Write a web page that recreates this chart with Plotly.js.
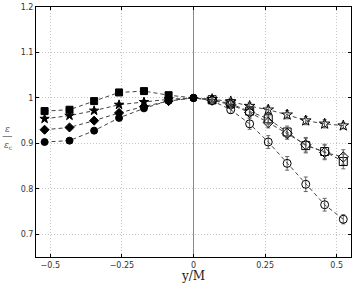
<!DOCTYPE html>
<html><head><meta charset="utf-8">
<script src="https://cdn.plot.ly/plotly-3.0.1.min.js"></script>
<style>html,body{margin:0;padding:0;background:#fff}#c{width:354px;height:283px}</style>
</head><body><div id="c"></div>
<script>
const xLeft = [-0.52, -0.433, -0.347, -0.26, -0.173, -0.087, 0];
const xRight = [0.065, 0.13, 0.196, 0.261, 0.327, 0.392, 0.458, 0.523];

const squaresLeft  = [0.971, 0.974, 0.993, 1.012, 1.015, 1.006, 1.0];
const starsLeft    = [0.954, 0.961, 0.972, 0.985, 0.991, 0.997, 1.0];
const diamondsLeft = [0.930, 0.935, 0.950, 0.967, 0.981, 0.993, 1.0];
const circlesLeft  = [0.903, 0.906, 0.928, 0.956, 0.977, 0.994, 1.0];

const squaresRight  = [0.996, 0.987, 0.971, 0.954, 0.925, 0.895, 0.882, 0.860];
const starsRight    = [0.997, 0.992, 0.982, 0.974, 0.963, 0.950, 0.943, 0.939];
const diamondsRight = [0.995, 0.985, 0.968, 0.946, 0.922, 0.897, 0.880, 0.870];
const circlesRight  = [0.994, 0.974, 0.943, 0.903, 0.856, 0.810, 0.765, 0.733];

const errLeft = [0.004, 0.004, 0.004, 0.004, 0.004, 0.003, 0.003];
const errSquares  = [0.006, 0.008, 0.010, 0.012, 0.013, 0.016, 0.016, 0.016];
const errStars    = [0.005, 0.006, 0.007, 0.008, 0.009, 0.009, 0.009, 0.007];
const errDiamonds = [0.006, 0.008, 0.010, 0.012, 0.013, 0.016, 0.016, 0.016];
const errCircles  = [0.006, 0.008, 0.012, 0.014, 0.015, 0.016, 0.014, 0.010];

const series = [
  {l: squaresLeft, r: squaresRight, e: errSquares, f: 'square', o: 'square-open'},
  {l: starsLeft, r: starsRight, e: errStars, f: 'star', o: 'star-open'},
  {l: diamondsLeft, r: diamondsRight, e: errDiamonds, f: 'diamond', o: 'diamond-open'},
  {l: circlesLeft, r: circlesRight, e: errCircles, f: 'circle', o: 'circle-open'}
];

const traces = series.map(s => {
  const x = xLeft.concat(xRight);
  const y = s.l.concat(s.r);
  const sym = xLeft.map((v,i) => i === xLeft.length-1 ? 'circle' : s.f).concat(xRight.map(() => s.o));
  const size = xLeft.map(() => 7).concat(xRight.map(() => 8));
  return {
    x: x, y: y, type: 'scatter', mode: 'lines+markers',
    line: {color: '#444', width: 1, dash: '4px,3px'},
    marker: {symbol: sym, size: size, color: '#000', opacity: 1, line: {color: '#000', width: 1}},
    error_y: {type: 'data', array: errLeft.concat(s.e), color: '#666', thickness: 1, width: 2},
    showlegend: false, hoverinfo: 'skip'
  };
});

const layout = {
  width: 354, height: 283,
  margin: {l: 36, r: 3, t: 7, b: 26},
  paper_bgcolor: '#fff', plot_bgcolor: '#fff',
  font: {family: 'DejaVu Sans, sans-serif', size: 8, color: '#333'},
  xaxis: {
    range: [-0.55, 0.55], tickvals: [-0.5, -0.25, 0, 0.25, 0.5],
    ticktext: ['\u22120.5', '\u22120.25', '0', '0.25', '0.5'],
    showgrid: true, gridcolor: '#c4c4c4', griddash: '1px,2px', gridwidth: 1,
    zeroline: true, zerolinecolor: '#888', zerolinewidth: 1.5,
    showline: true, linecolor: '#000', linewidth: 1, mirror: 'ticks',
    ticks: 'inside', ticklen: 3, tickcolor: '#000',
    tickfont: {size: 8, color: '#333'},
    title: {text: 'y/M', font: {family: 'DejaVu Serif, serif', size: 12, color: '#222'}, standoff: 2}
  },
  yaxis: {
    range: [0.65, 1.2], tickvals: [0.7, 0.8, 0.9, 1, 1.1, 1.2],
    ticktext: ['0.7', '0.8', '0.9', '1', '1.1', '1.2'],
    showgrid: true, gridcolor: '#c4c4c4', griddash: '1px,2px', gridwidth: 1,
    zeroline: false,
    showline: true, linecolor: '#000', linewidth: 1, mirror: 'ticks',
    ticks: 'inside', ticklen: 3, tickcolor: '#000',
    tickfont: {size: 8, color: '#333'}
  },
  annotations: [
    {xref: 'paper', yref: 'paper', x: -0.092, y: 0.485, text: '<i>ε</i>', showarrow: false,
     font: {family: 'DejaVu Serif, serif', size: 9, color: '#555'}, xanchor: 'center', yanchor: 'bottom'},
    {xref: 'paper', yref: 'paper', x: -0.088, y: 0.478, text: '<i>ε</i><sub>c</sub>', showarrow: false,
     font: {family: 'DejaVu Serif, serif', size: 9, color: '#555'}, xanchor: 'center', yanchor: 'top'}
  ],
  shapes: [
    {type: 'line', xref: 'paper', yref: 'paper', x0: -0.106, x1: -0.076, y0: 0.482, y1: 0.482,
     line: {color: '#666', width: 0.8}}
  ]
};

Plotly.newPlot('c', traces, layout, {staticPlot: true, displayModeBar: false});
</script>
</body></html>
